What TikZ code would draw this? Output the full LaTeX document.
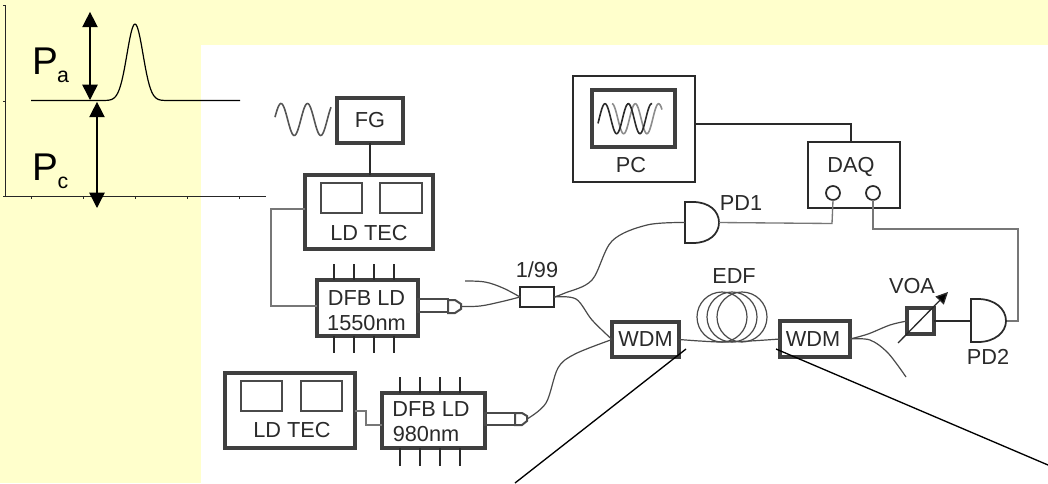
\documentclass[tikz,border=0pt]{standalone}
\usepackage{fontspec}
\setmainfont{Liberation Sans}
\usetikzlibrary{arrows.meta}
\definecolor{bgyel}{HTML}{FFFFCC}
\definecolor{ink}{HTML}{2A2A2A}
\definecolor{wiregray}{HTML}{777777}
\newcommand\pxbox[6]{\draw[#6] (#2,#3) rectangle (#4,#5) node[pos=.5,inner sep=0pt,outer sep=0pt,draw=none,minimum width={(#4-#2)*0.75pt},minimum height={(#5-#3)*0.75pt}] (#1) {};}
\tikzset{
 heavybox/.style={draw=ink!90,line width=2.3pt},
 midbox/.style={draw=ink,line width=1.7pt},
 lightbox/.style={draw=ink!85,line width=1.5pt},
 lab/.style={text=ink,font=\fontsize{16.3}{18}\selectfont,inner sep=0pt},
 bigp/.style={text=black,font=\fontsize{29}{31}\selectfont,inner sep=0pt},
 subp/.style={text=black,font=\fontsize{16}{18}\selectfont,inner sep=0pt},
 wire/.style={draw=ink,line width=0.9pt},
 graywire/.style={draw=wiregray,line width=1pt},
 fiber/.style={draw=ink!85,line width=0.9pt},
 pin/.style={draw=ink,line width=1.3pt},
 axisline/.style={draw=black!85,line width=0.7pt},
 dblarrow/.style={draw=black,line width=1.1pt,{Triangle[width=11.5pt,length=11.5pt]}-{Triangle[width=11.5pt,length=11.5pt]},shorten <=-0.1pt},
 callout/.style={draw=black,line width=1pt},
}
\begin{document}
\begin{tikzpicture}[x=0.75pt,y=-0.75pt]
\useasboundingbox (0,0) rectangle (1048,483);
\fill[bgyel] (0,0) rectangle (1048,483);
\fill[white] (201,45) rectangle (1048,483);
% chart
\coordinate (axtop) at (5,5); \coordinate (axo) at (5,196); \coordinate (axr) at (266,196);
\draw[axisline] (axtop) -- (axo) -- (axr);
\draw[axisline] (3,5) -- (axtop);
\draw[axisline] (3,101) -- (5,101);
\draw[axisline] (3,196) -- (axo);
\foreach \tx in {31,83,135,187,239} \draw[axisline] (\tx,196) -- (\tx,199);
\draw[draw=black,line width=0.9pt,line join=round] plot[domain=31:240,samples=160] (\x,{100.5-76.5*exp(-((\x-135)*(\x-135))/(2*8*8))});
\coordinate (patop) at (90,12); \coordinate (pabot) at (90,100);
\coordinate (pctop) at (97,102); \coordinate (pcbot) at (97,208);
\draw[dblarrow] (patop) -- (pabot);
\draw[dblarrow] (pctop) -- (pcbot);
\node[bigp] (lpa) at (45,61) {P};
\node[subp] (lpas) at (63,77) {a};
\node[bigp] (lpc) at (45,167) {P};
\node[subp] (lpcs) at (63,183) {c};
% function generator
\pxbox{fg}{337}{98}{403}{143}{heavybox}
\node[lab] (lfg) at (370,120) {FG};
\draw[draw=ink!80,line width=1.2pt] plot[domain=275:331,samples=60] (\x,{119.5-16*cos(13.6*(\x-281))});
\pxbox{tec}{305}{175}{433}{249}{heavybox}
\pxbox{teca}{321}{183}{362}{213}{lightbox}
\pxbox{tecb}{380}{183}{422}{213}{lightbox}
\node[lab] (ltec) at (369,233) {LD TEC};
\draw[wire,line width=1pt] (fg.south) -- (fg.south |- tec.north);
% DFB 1550
\pxbox{dfba}{317}{280}{418}{336}{heavybox}
\node[lab] (ldfba) at (366.5,298) {DFB LD};
\node[lab] (ldfbb) at (366.5,323) {1550nm};
\foreach \px in {334,354,374,394} {
 \draw[pin] (\px,264) -- (\px,280);
 \draw[pin] (\px,336) -- (\px,353);
}
\coordinate (jogta) at (271,209); \coordinate (jogtb) at (271,306);
\draw[graywire] (jogta -| tec.west) -- (jogta) -- (jogtb) -- (jogtb -| dfba.west);
\pxbox{conna}{418}{299}{448}{312}{lightbox}
\draw[lightbox,fill=white] (448,300) -- (455,300) -- (461,304) -- (461,309) -- (455,313) -- (448,313) -- cycle;
\coordinate (tipa) at (461,306.5);
% coupler
\pxbox{cpl}{520}{287}{554}{307}{midbox}
\node[lab] (lcpl) at (537,270) {1/99};
\coordinate (freein) at (465,281);
\draw[fiber] plot[smooth,tension=.6] coordinates {(tipa) (480,306) (500,302) (cpl.west)};
\draw[fiber] plot[smooth,tension=.6] coordinates {(freein) (485,282) (503,288) (cpl.west)};
% PD1
\coordinate (pdain) at (685,222.5); \coordinate (pdaout) at (719,222.5);
\draw[draw=ink,line width=1.3pt,fill=white] (685,202) -- (693,202) .. controls (709,202) and (719,211) .. (pdaout) .. controls (719,234) and (709,243) .. (693,243) -- (685,243) -- cycle;
\node[lab] (lpda) at (741,203) {PD1};
\draw[fiber] plot[smooth,tension=.55] coordinates {(cpl.east) (565,293) (592,280) (612,241) (647,225) (pdain)};
% WDM 1
\pxbox{wdma}{612}{322}{679}{357}{heavybox}
\node[lab] (lwdma) at (645.5,339.5) {WDM};
\draw[fiber] plot[smooth,tension=.55] coordinates {(cpl.east) (576,299) (592,320) (wdma.west)};
% PC & DAQ
\pxbox{pc}{573}{76}{695}{182}{midbox}
\pxbox{scr}{592}{90}{675}{147}{heavybox}
\node[lab] (lpc2) at (631,165) {PC};
\draw[draw=black!45,line width=1.2pt] plot[domain=612:662,samples=70] (\x,{118.7-15*cos(15.45*(\x-612))});
\draw[draw=ink,line width=1.2pt] plot[domain=598:652,samples=70] (\x,{118.7-15*cos(15.45*(\x-605))});
\pxbox{daq}{808}{142}{900}{208}{midbox}
\node[lab] (ldaq) at (851,167) {DAQ};
\node[draw=ink,line width=1.3pt,circle,minimum size=10.5pt,inner sep=0pt,outer sep=0pt] (cha) at (833,193) {};
\node[draw=ink,line width=1.3pt,circle,minimum size=10.5pt,inner sep=0pt,outer sep=0pt] (chb) at (873,193) {};
\coordinate (dj) at (851,124);
\draw[wire] (dj -| pc.east) -- (dj) -- (dj |- daq.north);
\coordinate (cj) at (832,223.5);
\draw[graywire] (pdaout) -- (cj) -- (cha.south);
\coordinate (ej) at (1018,229); \coordinate (fj) at (1018,321);
\coordinate (pdbout) at (1006,321);
\draw[graywire] (chb.south) -- (chb.south |- ej) -- (ej) -- (fj) -- (pdbout);
% DFB 980
\pxbox{dfbb}{382}{393}{485}{448}{heavybox}
\node[lab] (ldfbc) at (431,409) {DFB LD};
\node[lab] (ldfbd) at (426,434) {980nm};
\foreach \px in {400,420,440,460} {
 \draw[pin] (\px,377) -- (\px,393);
 \draw[pin] (\px,448) -- (\px,466);
}
\pxbox{tec2}{225}{373}{355}{448}{heavybox}
\pxbox{tec2a}{241}{381}{282}{411}{lightbox}
\pxbox{tec2b}{301}{381}{342}{411}{lightbox}
\node[lab] (ltec2) at (292,430) {LD TEC};
\coordinate (jga) at (366,411); \coordinate (jgb) at (366,425);
\draw[graywire] (jga -| tec2.east) -- (jga) -- (jgb) -- (jgb -| dfbb.west);
\pxbox{connb}{485}{413}{515}{425}{lightbox}
\draw[lightbox,fill=white] (515,413) -- (522,413) -- (527,416) -- (527,421) -- (522,425) -- (515,425) -- cycle;
\coordinate (tipb) at (527,419);
\draw[fiber] plot[smooth,tension=.55] coordinates {(tipb) (546,403) (558,368) (575,354) (wdma.west)};
% EDF
\node[lab] (ledf) at (734,276) {EDF};
\foreach \cx in {722,732,742} \draw[draw=ink!85,line width=0.9pt] (\cx,317) ellipse (25 and 25);
\pxbox{wdmb}{780}{321}{850}{357}{heavybox}
\node[lab] (lwdmb) at (813,339.5) {WDM};
\draw[fiber] plot[smooth,tension=.5] coordinates {(wdma.east) (700,341) (722,342) (750,341) (wdmb.west)};
% VOA & PD2
\pxbox{voa}{907}{308}{934}{334}{heavybox}
\node[lab] (lvoa) at (912,286) {VOA};
\coordinate (vl) at (898,343); \coordinate (vh) at (948,292);
\draw[draw=ink,line width=1pt,-{Triangle[width=8.5pt,length=9pt,fill=black]}] (vl) -- (vh);
\coordinate (pdbin) at (971,321);
\draw[draw=ink,line width=1.3pt,fill=white] (971,299) -- (978,299) .. controls (995,299) and (1006,309) .. (pdbout) .. controls (1006,332) and (995,342) .. (978,342) -- (971,342) -- cycle;
\node[lab] (lpdb) at (988,357) {PD2};
\draw[wire] (voa.east) -- (pdbin);
\coordinate (free2) at (906,377);
\draw[fiber] plot[smooth,tension=.55] coordinates {(wdmb.east) (868,334) (890,325) (voa.west)};
\draw[fiber] plot[smooth,tension=.55] coordinates {(wdmb.east) (870,340) (888,353) (free2)};
% callouts
\coordinate (ca) at (686,349); \coordinate (cb) at (515,483);
\coordinate (cc) at (776,349); \coordinate (cd) at (1048,465);
\draw[callout] (ca) -- (cb);
\draw[callout] (cc) -- (cd);
\end{tikzpicture}
\end{document}
